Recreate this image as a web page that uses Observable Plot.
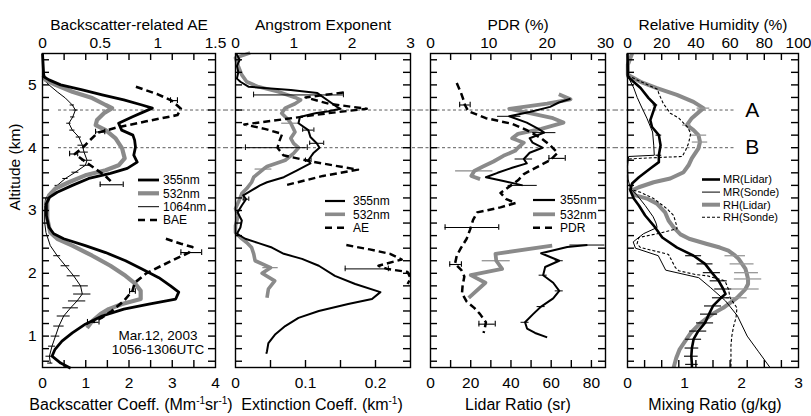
<!DOCTYPE html>
<html><head><meta charset="utf-8">
<script src="https://cdn.jsdelivr.net/npm/d3@7"></script>
<script src="https://cdn.jsdelivr.net/npm/@observablehq/plot@0.6"></script>
<style>
body{margin:0;background:#fff;}
#wrap{position:relative;width:811px;height:416px;font-family:"Liberation Sans",Arial,Helvetica,sans-serif;color:#000;}
#wrap svg{position:absolute;top:0;overflow:visible;}
.bt{position:absolute;font-size:16px;white-space:nowrap;transform:translateX(-50%);line-height:18px;}
.bt sup{font-size:10px;vertical-align:6px;line-height:0;}
.dt{position:absolute;font-size:13.5px;line-height:13.5px;text-align:center;transform:translateX(-50%);white-space:nowrap;}
</style></head>
<body><div id="wrap"></div>
<script>
// ---------- data: [altitude km, value, (error half-width)] ----------
// Panel 1: backscatter coefficient (Mm-1 sr-1), BAE
const bs355 = [[5.5,0],[5.13,0.03],[5.08,0.15],[5.0,0.42],[4.92,0.92],[4.84,1.38],[4.76,1.88],[4.68,2.3],[4.63,2.54],[4.57,2.34],[4.49,2.07],[4.39,1.76],[4.28,1.83],[4.2,2.09],[4.12,2.13],[4.01,2.15],[3.88,2.11],[3.77,2.19],[3.67,1.96],[3.59,1.57],[3.51,1.07],[3.4,0.69],[3.29,0.34],[3.21,0.16],[3.11,0.09],[2.92,0.09],[2.73,0.15],[2.63,0.26],[2.55,0.49],[2.44,0.99],[2.33,1.46],[2.2,1.92],[2.07,2.3],[1.93,2.69],[1.8,2.96],[1.7,3.15],[1.59,3.08],[1.51,2.46],[1.43,1.88],[1.32,1.38],[1.19,0.99],[1.05,0.69],[0.92,0.45],[0.79,0.29],[0.68,0.22],[0.57,0.42],[0.49,0.65]];
const bs532 = [[5.15,0.02],[5.08,0.07],[5.0,0.3],[4.89,0.69],[4.79,1.15],[4.68,1.46],[4.63,1.61],[4.55,1.42],[4.44,1.26],[4.36,1.23],[4.28,1.46],[4.15,1.69],[3.99,1.84],[3.83,1.9],[3.72,1.76],[3.64,1.46],[3.56,0.99],[3.45,0.61],[3.35,0.3],[3.24,0.15],[3.13,0.11],[2.87,0.11],[2.65,0.18],[2.55,0.34],[2.44,0.69],[2.28,1.15],[2.12,1.57],[1.96,1.92],[1.83,2.15],[1.72,2.27],[1.59,2.27],[1.51,1.84],[1.43,1.53],[1.35,1.34],[1.24,1.15],[1.13,1.03]];
const bs1064 = [[5.5,0],[5.13,0.01],[5.08,0.03],[5.0,0.15],[4.89,0.34],[4.79,0.53],[4.68,0.69,0.05],[4.6,0.76,0.06],[4.49,0.7,0.05],[4.39,0.61,0.05],[4.28,0.69,0.06],[4.17,0.84,0.06],[4.04,0.92,0.1],[3.93,0.96,0.1],[3.8,1.03,0.12],[3.72,0.99,0.12],[3.61,0.76,0.08],[3.51,0.53,0.06],[3.4,0.34,0.05],[3.29,0.18],[3.19,0.07],[3.08,0.05],[2.81,0.05],[2.65,0.08],[2.44,0.18],[2.28,0.34,0.08],[2.12,0.53,0.1],[1.96,0.72,0.15],[1.8,0.88,0.18],[1.67,0.92,0.2],[1.56,0.8,0.2],[1.45,0.65,0.18],[1.32,0.49,0.15],[1.16,0.38,0.12],[1.0,0.3,0.1],[0.84,0.22,0.08],[0.68,0.16,0.08],[0.57,0.18,0.06]];
const baeTop = [[4.97,0.81],[4.85,1.0],[4.75,1.12],[4.62,1.2],[4.52,1.17],[4.42,0.9],[4.32,0.64],[4.24,0.48],[4.1,0.4],[4.0,0.35],[3.9,0.28],[3.78,0.37],[3.66,0.46],[3.56,0.54],[3.45,0.6]];
const baeLow = [[2.55,1.07],[2.47,1.2],[2.42,1.3],[2.33,1.27],[2.2,1.12],[2.0,0.9],[1.85,0.8],[1.72,0.78],[1.55,0.7],[1.4,0.6],[1.3,0.52],[1.22,0.44]];
const baeErr = [[4.75,1.14,0.03],[4.25,0.5,0.04],[3.9,0.27,0.035],[3.41,0.6,0.1],[2.33,1.29,0.09],[1.71,0.78,0.025],[1.22,0.44,0.05]];
// Panel 2: extinction coefficient (km-1), Angstrom exponent
const ext355 = [[5.5,0.001],[5.4,0.006],[5.3,0.002],[5.2,0.004],[5.1,0.002],[5.05,0.007],[4.97,0.019],[4.92,0.079],[4.87,0.117],[4.76,0.131],[4.65,0.145],[4.62,0.15],[4.58,0.133],[4.55,0.114],[4.49,0.092],[4.39,0.09],[4.28,0.104,0.008],[4.17,0.107],[4.07,0.116,0.01],[4.0,0.12],[3.91,0.111],[3.8,0.104,0.004],[3.75,0.107],[3.64,0.088],[3.53,0.069],[3.45,0.045],[3.4,0.035],[3.32,0.023],[3.24,0.011],[3.18,0.015,0.004],[3.08,0.009],[2.97,0.003],[2.84,0.009],[2.73,0.007],[2.63,0.002],[2.55,0.014],[2.48,0.033],[2.41,0.052],[2.31,0.069],[2.23,0.095],[2.12,0.119],[1.96,0.142],[1.83,0.171],[1.7,0.207],[1.59,0.195],[1.51,0.161],[1.4,0.119],[1.29,0.09],[1.16,0.071],[1.03,0.057],[0.89,0.047],[0.76,0.045],[0.72,0.044]];
const ext532 = [[5.51,0.021],[5.43,0.0],[5.3,0.004],[5.16,0.009],[5.05,0.016],[4.97,0.033],[4.89,0.061],[4.8,0.085],[4.76,0.093],[4.7,0.085],[4.63,0.071],[4.55,0.066],[4.45,0.075],[4.39,0.079,0.013],[4.25,0.085],[4.15,0.079],[4.07,0.083],[4.0,0.09],[3.91,0.083],[3.8,0.071],[3.7,0.045],[3.66,0.04,0.012],[3.53,0.026],[3.45,0.023],[3.35,0.016],[3.27,0.009],[3.13,0.004],[3.03,0.0],[2.92,0.004],[2.76,0.0],[2.65,0.0],[2.57,0.007],[2.49,0.016],[2.41,0.023],[2.31,0.026],[2.2,0.028],[2.09,0.05,0.011],[2.0,0.038],[1.88,0.056],[1.75,0.047],[1.61,0.045]];
const aeTop = [[4.88,1.85],[4.8,1.2],[4.7,1.6],[4.62,2.25],[4.55,1.6],[4.45,0.8],[4.37,0.15],[4.3,0.5],[4.22,0.8],[4.1,0.75],[4.0,0.72],[3.88,0.82],[3.78,1.3],[3.65,2.1],[3.55,1.5],[3.4,0.85]];
const aeLow = [[2.45,1.9],[2.38,2.3],[2.31,2.65],[2.22,2.85],[2.12,2.45],[2.07,2.6],[2.02,2.95],[1.92,3.0],[1.83,2.95]];
const aeErr = [[4.84,1.08,0.77],[4.0,0.7,0.53],[2.07,2.25,0.37]];
// Panel 3: particle depolarization ratio (%), lidar ratio (sr)
const pdr355 = [[4.78,24],[4.72,22],[4.65,20.5],[4.57,17],[4.5,13.5,2],[4.4,16.5],[4.3,18.5],[4.24,19.5,2],[4.15,17],[4.08,17.5],[4.0,19.2],[3.92,17],[3.82,16,1.5],[3.75,16.5],[3.68,14],[3.6,11.5],[3.53,9.5],[3.47,12.5],[3.4,15.8,2.5]];
const pdr532 = [[4.85,22],[4.77,24],[4.7,20],[4.62,13.5],[4.55,17],[4.47,21],[4.4,22.8],[4.3,19],[4.22,15],[4.15,14],[4.08,16],[4.0,15],[3.95,14.5],[3.87,12.5],[3.78,10.8],[3.7,9],[3.63,7.5,3.2],[3.55,7],[3.5,8.5]];
const pdr = [[5.03,4.5],[4.88,5.2],[4.75,5.7],[4.68,5.9],[4.58,6.5],[4.47,9.5],[4.38,14],[4.28,16.5],[4.15,19],[4.04,20.5],[3.92,21.8],[3.8,20.5],[3.68,18],[3.58,16],[3.48,15],[3.38,13.5],[3.28,12],[3.18,13],[3.12,14.6],[3.05,12],[2.97,8],[2.85,7.3],[2.7,6.8],[2.55,6.2],[2.4,5.2],[2.28,4.5],[2.15,4.2],[2.05,5.3],[1.95,5.8],[1.8,5.5],[1.68,5.4],[1.55,6.2],[1.45,7.5],[1.35,8.5],[1.22,9.5],[1.12,9.3],[1.05,9.1]];
const pdrErr = [[4.68,5.9,0.9],[3.83,21.7,1.4],[2.73,7.1,4.6],[2.14,4.3,1.0],[1.19,9.7,1.4]];
const lr355 = [[2.45,78,8.7],[2.42,68],[2.32,55],[2.2,64,2],[2.1,57],[1.97,56,2],[1.85,61],[1.72,64,2],[1.6,61],[1.47,55,2],[1.35,51],[1.22,47,2],[1.12,48],[1.05,52],[0.98,58]];
const lr532 = [[2.44,60.5],[2.31,32.3],[2.2,32.7,7],[2.07,35.6],[1.97,20],[1.85,27.3],[1.61,19]];
// Panel 4: mixing ratio (g/kg), relative humidity (%)
const mrLidar = [[5.5,0.0],[5.13,0.006],[4.95,0.23],[4.79,0.37],[4.68,0.49,0.04],[4.57,0.45],[4.44,0.4],[4.33,0.43],[4.2,0.55,0.05],[4.04,0.58],[3.88,0.55,0.05],[3.77,0.55],[3.67,0.4],[3.53,0.2],[3.43,0.08],[3.32,0.05],[3.19,0.11],[3.08,0.2],[2.92,0.31],[2.76,0.46],[2.57,0.61],[2.41,0.87],[2.28,1.16,0.14],[2.15,1.36,0.14],[2.01,1.48,0.15],[1.88,1.6,0.15],[1.75,1.68,0.15],[1.67,1.72],[1.61,1.64,0.15],[1.48,1.5,0.15],[1.35,1.43,0.15],[1.21,1.36,0.15],[1.08,1.24,0.15],[0.95,1.16,0.14],[0.81,1.13,0.12],[0.68,1.12,0.12],[0.55,1.13,0.11],[0.5,1.13]];
const mrSonde = [[5.15,0.0],[4.95,0.11],[4.8,0.17],[4.68,0.23],[4.47,0.34],[4.25,0.44],[4.04,0.46],[3.88,0.47],[3.86,0.02],[3.7,0.0],[3.5,0.01],[3.35,0.05],[3.24,0.17],[3.08,0.31],[2.9,0.45],[2.8,0.5],[2.73,0.52],[2.63,0.28],[2.5,0.1],[2.4,0.14],[2.28,0.54],[2.05,0.67],[1.93,1.25],[1.77,1.46],[1.56,1.72],[1.32,1.93],[1.0,2.1],[0.75,2.3],[0.5,2.5]];
const rhLidar = [[5.5,2.7],[5.32,0.2],[5.16,0.2],[5.05,7.6],[4.95,17.2],[4.84,28.9],[4.73,38.6],[4.63,44.4,3.7],[4.47,37.6],[4.36,34.7,2.5],[4.28,38.6],[4.2,41.5,4.8],[4.09,42.4,4.5],[3.99,41.5],[3.83,37.6],[3.72,35.7],[3.61,32.8],[3.51,25],[3.45,15.3],[3.37,6.6],[3.32,2.7],[3.24,4.7],[3.19,11.4],[3.11,17.2],[2.97,22],[2.84,24],[2.73,27],[2.62,31],[2.55,36],[2.47,46],[2.41,54],[2.36,59],[2.28,63,6],[2.23,65],[2.15,67,7],[2.07,69],[2.01,69.6,7],[1.91,70.5,8],[1.83,70.5],[1.75,69,8],[1.72,68],[1.61,64,6],[1.53,60],[1.45,56],[1.35,49.5],[1.19,42],[1.05,37],[0.97,35],[0.79,30.5],[0.65,28.5],[0.5,27]];
const rhSonde = [[5.15,0],[5.0,12],[4.93,17.5],[4.85,18.5],[4.7,21],[4.55,25],[4.47,30],[4.33,35],[4.23,37],[4.07,35.7],[3.96,34],[3.86,32],[3.84,15],[3.82,0],[3.35,0],[3.29,7.6],[3.19,15.3],[3.03,23],[2.92,27],[2.78,28.5],[2.71,29],[2.63,17.4],[2.57,6.6],[2.47,5.6],[2.41,7.6],[2.36,15.3],[2.3,24],[2.09,28],[2.04,30],[1.98,40],[1.96,46.6],[1.88,57],[1.75,59],[1.61,60],[1.45,64],[1.3,63.5],[1.15,62],[1.0,61],[0.85,60.5],[0.5,60.5]];

// tick labels
const p1Bottom = [0,1,2,3,4], p1Top = [0,0.5,1,1.5];
const p2Bottom = [0,0.1,0.2], p2Top = [0,1,2,3];
const p3Bottom = [0,20,40,60,80], p3Top = [0,10,20,30];
const p4Bottom = [0,1,2,3], p4Top = [0,20,40,60,80,100];
const altLabels = [1,2,3,4,5];
const layerAlts = [4.6, 4.0];

// ---------- helpers ----------
const FONT = '"Liberation Sans", Arial, Helvetica, sans-serif';
const GRAY = "#8a8a8a";
const R = a => a.map(([alt, v, e]) => ({alt, v, e}));
const L = (a, k, stroke, w, dash) => Plot.line(R(a), {x: r => r.v * k, y: "alt", stroke, strokeWidth: w, strokeDasharray: dash, strokeLinejoin: "round", strokeLinecap: "butt"});
function E(a, k, stroke, w, cap) {
  const d = R(a).filter(r => r.e);
  const m = [Plot.ruleY(d, {y: "alt", x1: r => (r.v - r.e) * k, x2: r => (r.v + r.e) * k, stroke, strokeWidth: w})];
  if (cap) {
    m.push(Plot.ruleX(d, {x: r => (r.v - r.e) * k, y1: r => r.alt - cap, y2: r => r.alt + cap, stroke, strokeWidth: w}));
    m.push(Plot.ruleX(d, {x: r => (r.v + r.e) * k, y1: r => r.alt - cap, y2: r => r.alt + cap, stroke, strokeWidth: w}));
  }
  return m;
}
const wrap = document.getElementById("wrap");
const YLO = 0.5, YHI = 5.5, TICKPX = 7, FRAMEH = 416 - 53 - 49;
function panel(o) {
  const fw = o.width - o.mL - o.mR;
  const tkY = (YHI - YLO) * TICKPX / FRAMEH;
  const tkX = (o.domain[1] - o.domain[0]) * TICKPX / fw;
  const yT = d3.range(3, 28).map(i => +(i * 0.2).toFixed(1));
  // inward frame tick segments
  const xTicks = [];
  for (const v of o.ticks) { xTicks.push({alt: YLO + tkY / 2, v, e: tkY / 2}); xTicks.push({alt: YHI - tkY / 2, v, e: tkY / 2}); }
  const yTicks = [];
  for (const a of yT) { yTicks.push({alt: a, v: o.domain[0] + tkX / 2, e: tkX / 2}); yTicks.push({alt: a, v: o.domain[1] - tkX / 2, e: tkX / 2}); }
  const bMap = new Map(o.bottom.map(v => [v, String(v)]));
  const topX = o.top.map(v => v * o.topK);
  const tMap = new Map(topX.map((x, i) => [x, String(o.top[i])]));
  const marks = [
    Plot.ruleY(layerAlts, {stroke: "#333", strokeWidth: 0.8, strokeDasharray: "3,2.5", insetLeft: o.dashL, insetRight: o.dashR}),
    ...o.marks,
    Plot.ruleX(xTicks, {x: r => r.v, y1: r => r.alt - r.e, y2: r => r.alt + r.e, stroke: "#000", strokeWidth: 1.4}),
    Plot.ruleY(yTicks, {y: r => r.alt, x1: r => r.v - r.e, x2: r => r.v + r.e, stroke: "#000", strokeWidth: 1.4}),
    Plot.frame({stroke: "#000", strokeWidth: 1.4}),
    Plot.axisX(o.bottom, {anchor: "bottom", tickSize: 0, tickPadding: 9, tickFormat: d => bMap.get(d), label: null}),
    Plot.axisX(topX, {anchor: "top", tickSize: 0, tickPadding: 6, tickFormat: d => tMap.get(d), label: null}),
    Plot.text([o.title], {text: d => d, frameAnchor: "top", dy: -35, fontSize: 15.5})
  ];
  if (o.yAxis) {
    marks.push(Plot.axisY(altLabels, {anchor: "left", tickSize: 0, tickPadding: 6, tickFormat: d => String(d), label: null}));
    marks.push(Plot.text(["Altitude (km)"], {text: d => d, frameAnchor: "left", rotate: -90, dx: -27, fontSize: 15.5}));
  }
  if (o.extra) marks.push(...o.extra);
  const svg = Plot.plot({
    width: o.width, height: 416,
    marginTop: 53, marginBottom: 49, marginLeft: o.mL, marginRight: o.mR,
    style: {fontFamily: FONT, fontSize: "15.5px", background: "transparent", overflow: "visible", color: "#000"},
    x: {domain: o.domain, label: null},
    y: {domain: [YLO, YHI], label: null, axis: o.yAxis ? undefined : null},
    marks
  });
  svg.style.left = o.left + "px";
  wrap.appendChild(svg);
}

// Panel 1
panel({left: 0, width: 225, mL: 42, mR: 10, domain: [0, 4], dashL: 16, dashR: -10,
  ticks: d3.range(1, 8).map(i => i * 0.5), bottom: p1Bottom, top: p1Top, topK: 4 / 1.5,
  title: "Backscatter-related AE", yAxis: true,
  marks: [
    L(bs1064, 1, "#000", 1), ...E(bs1064, 1, "#000", 1, 0),
    L(bs532, 1, GRAY, 4.2),
    L(bs355, 1, "#000", 2.8),
    L(baeTop, 4 / 1.5, "#000", 2.6, "7,4"), L(baeLow, 4 / 1.5, "#000", 2.6, "7,4"),
    ...E(baeErr, 4 / 1.5, "#000", 1.1, 0.045)
  ]});
// Panel 2
panel({left: 225, width: 195, mL: 10, mR: 10, domain: [0, 0.25], dashL: -10, dashR: -10,
  ticks: [0.05, 0.1, 0.15, 0.2], bottom: p2Bottom, top: p2Top, topK: 0.25 / 3,
  title: "Angstrom Exponent",
  marks: [
    L(ext532, 1, GRAY, 3.6), ...E(ext532, 1, GRAY, 1.2, 0),
    L(aeTop, 0.25 / 3, "#000", 2.4, "7,4"), L(aeLow, 0.25 / 3, "#000", 2.4, "7,4"),
    ...E(aeErr, 0.25 / 3, "#000", 1, 0.045),
    L(ext355, 1, "#000", 2), ...E(ext355, 1, "#000", 1, 0.035)
  ]});
// Panel 3
panel({left: 420, width: 195, mL: 10, mR: 10, domain: [0, 87], dashL: -10, dashR: -10,
  ticks: d3.range(1, 9).map(i => i * 10), bottom: p3Bottom, top: p3Top, topK: 87 / 30,
  title: "PDR (%)",
  marks: [
    L(pdr532, 87 / 30, GRAY, 3.8), ...E(pdr532, 87 / 30, GRAY, 1.2, 0),
    L(lr532, 1, GRAY, 3.8), ...E(lr532, 1, GRAY, 1.2, 0),
    L(pdr, 87 / 30, "#000", 2.5, "7,4"), ...E(pdrErr, 87 / 30, "#000", 1.1, 0.045),
    L(pdr355, 87 / 30, "#000", 2), ...E(pdr355, 87 / 30, "#000", 1, 0),
    L(lr355, 1, "#000", 2), ...E(lr355, 1, "#000", 1, 0)
  ]});
// Panel 4
panel({left: 615, width: 196, mL: 12, mR: 13, domain: [0, 3], dashL: -12, dashR: 64,
  ticks: d3.range(1, 10).map(i => i * 0.3), bottom: p4Bottom, top: p4Top, topK: 0.03,
  title: "Relative Humidity (%)",
  marks: [
    L(rhLidar, 0.03, GRAY, 4), ...E(rhLidar, 0.03, "#999", 1.3, 0),
    L(mrSonde, 1, "#000", 1),
    L(rhSonde, 0.03, "#000", 1.1, "3,2"),
    L(mrLidar, 1, "#000", 2.6), ...E(mrLidar, 1, "#000", 1.1, 0)
  ],
  extra: [Plot.text([["A", 4.6], ["B", 4.0]], {x: () => 2.19, y: d => d[1], text: d => d[0], fontSize: 21})]
});

// legends (non-data key graphics)
const leg = d3.create("svg").attr("width", 811).attr("height", 416).style("left", "0px").style("pointer-events", "none")
  .attr("font-family", FONT);
function legend(x0, x1, tx, fs, rows) {
  for (const [y, label, stroke, w, dash] of rows) {
    leg.append("line").attr("x1", x0).attr("x2", x1).attr("y1", y).attr("y2", y)
      .attr("stroke", stroke).attr("stroke-width", w).attr("stroke-dasharray", dash || null);
    leg.append("text").attr("x", tx).attr("y", y).attr("dy", "0.35em").attr("font-size", fs).text(label);
  }
}
legend(138, 159, 163, 12, [[180, "355nm", "#000", 2.8], [193.3, "532nm", GRAY, 4.2], [206.7, "1064nm", "#000", 1], [220, "BAE", "#000", 2.6, "7,5"]]);
legend(325, 345, 353, 12, [[201, "355nm", "#000", 2.2], [214.3, "532nm", GRAY, 3.6], [227.7, "AE", "#000", 2.4, "7,5"]]);
legend(533, 555, 560, 12, [[200, "355nm", "#000", 2.2], [214.3, "532nm", GRAY, 3.8], [227.7, "PDR", "#000", 2.5, "7,5"]]);
legend(702, 720, 723, 11, [[179.5, "MR(Lidar)", "#000", 2.6], [192.1, "MR(Sonde)", "#000", 1], [204.7, "RH(Lidar)", GRAY, 4], [217.3, "RH(Sonde)", "#000", 1.1, "3,2"]]);
wrap.appendChild(leg.node());

// bottom axis titles and date note
const html = (cls, x, y, s) => { const d = document.createElement("div"); d.className = cls; d.style.left = x + "px"; d.style.top = y + "px"; d.innerHTML = s; wrap.appendChild(d); };
html("bt", 131, 396, "Backscatter Coeff. (Mm<sup>-1</sup>sr<sup>-1</sup>)");
html("bt", 322, 396, "Extinction Coeff. (km<sup>-1</sup>)");
html("bt", 518, 396, "Lidar Ratio (sr)");
html("bt", 715, 396, "Mixing Ratio (g/kg)");
html("dt", 158, 329, "Mar.12, 2003<br>1056-1306UTC");
</script>
</body></html>
